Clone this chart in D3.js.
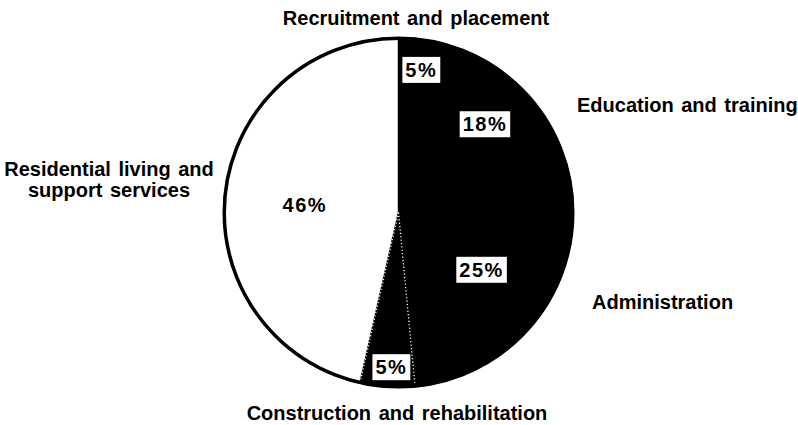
<!DOCTYPE html>
<html>
<head>
<meta charset="utf-8">
<script src="https://cdnjs.cloudflare.com/ajax/libs/d3/7.8.5/d3.min.js"></script>
<style>
  body { margin: 0; background: #fff; }
  text { font-family: "Liberation Sans", Arial, sans-serif; font-weight: bold; }
</style>
</head>
<body>
<div id="chart-area"></div>
<script>
// data (clockwise from 12 o'clock)
var categories = ["Recruitment and placement", "Education and training", "Administration",
                  "Construction and rehabilitation", "Residential living and support services"];
var shares = [5, 18, 25, 5, 46];
var shareLabels = ["5%", "18%", "25%", "5%", "46%"];

// layout only
var fills = ["#000", "#000", "#000", "#000", "#fff"];
var labelRadius = [0.83, 0.71, 0.58, 0.89, 0.54];   // fraction of pie radius
var labelTurn = [0, -6.5, -4.5, -1, -1.7];          // degrees nudge
var boxed = [true, true, true, true, false];
var nameLines = [["Recruitment and placement"], ["Education and training"], ["Administration"],
                 ["Construction and rehabilitation"], ["Residential living and", "support services"]];
var namePos = [[416, 25, "middle"], [577, 112, "start"], [592, 309, "start"],
               [397, 420, "middle"], [109, 176, "middle"]];

var width = 798, height = 425;
var cx = 398.5, cy = 212.5, radius = 174;

var svg = d3.select("#chart-area").append("svg")
    .attr("width", width)
    .attr("height", height);

var pie = d3.pie().sort(null).value(function(d){ return d; });
var arcs = pie(shares);
var arc = d3.arc().innerRadius(0).outerRadius(radius);

var g = svg.append("g").attr("transform", "translate(" + cx + "," + cy + ")");

// outline circle behind the slices
g.append("circle")
    .attr("r", radius)
    .attr("fill", "#fff")
    .attr("stroke", "#000")
    .attr("stroke-width", 4);

g.selectAll("path.slice")
    .data(arcs)
    .enter()
    .append("path")
        .attr("class", "slice")
        .attr("d", arc)
        .attr("fill", function(d, i){ return fills[i]; })
        .attr("stroke", function(d, i){ return i == 4 ? "#000" : "#000"; })
        .attr("stroke-width", function(d, i){ return i == 4 ? 1.5 : 1; });

// dotted white edges of the construction wedge
var c = arcs[3];
[c.startAngle, c.endAngle].forEach(function(a){
    g.append("line")
        .attr("x1", 0).attr("y1", 0)
        .attr("x2", Math.sin(a) * (radius - 3))
        .attr("y2", -Math.cos(a) * (radius - 3))
        .attr("stroke", "#fff")
        .attr("stroke-width", 1.3)
        .attr("stroke-dasharray", "1.2,2.2");
});

// outer ring again on top so the edge is crisp
g.append("circle")
    .attr("r", radius)
    .attr("fill", "none")
    .attr("stroke", "#000")
    .attr("stroke-width", 3);

// percentage labels
arcs.forEach(function(d, i){
    var a = (d.startAngle + d.endAngle) / 2 + labelTurn[i] * Math.PI / 180;
    var r = radius * labelRadius[i];
    var x = Math.sin(a) * r, y = -Math.cos(a) * r;
    var lab = g.append("g").attr("transform", "translate(" + x + "," + y + ")");
    var t = lab.append("text")
        .attr("text-anchor", "middle")
        .attr("dy", "0.36em")
        .attr("font-size", 20)
        .attr("letter-spacing", 1.5)
        .attr("fill", "#000")
        .text(shareLabels[i]);
    if (boxed[i]) {
        var bb = t.node().getBBox();
        var w = bb.width + 6, h = 26;
        lab.insert("rect", "text")
            .attr("x", -w / 2)
            .attr("y", -h / 2)
            .attr("width", w)
            .attr("height", h)
            .attr("fill", "#fff");
    }
});

// category names
nameLines.forEach(function(lines, i){
    var p = namePos[i];
    var t = svg.append("text")
        .attr("x", p[0])
        .attr("y", p[1])
        .attr("text-anchor", p[2])
        .attr("font-size", 20)
        .attr("word-spacing", 2)
        .attr("fill", "#000");
    lines.forEach(function(line, j){
        t.append("tspan")
            .attr("x", p[0])
            .attr("dy", j == 0 ? 0 : 21)
            .text(line);
    });
});
</script>
</body>
</html>
